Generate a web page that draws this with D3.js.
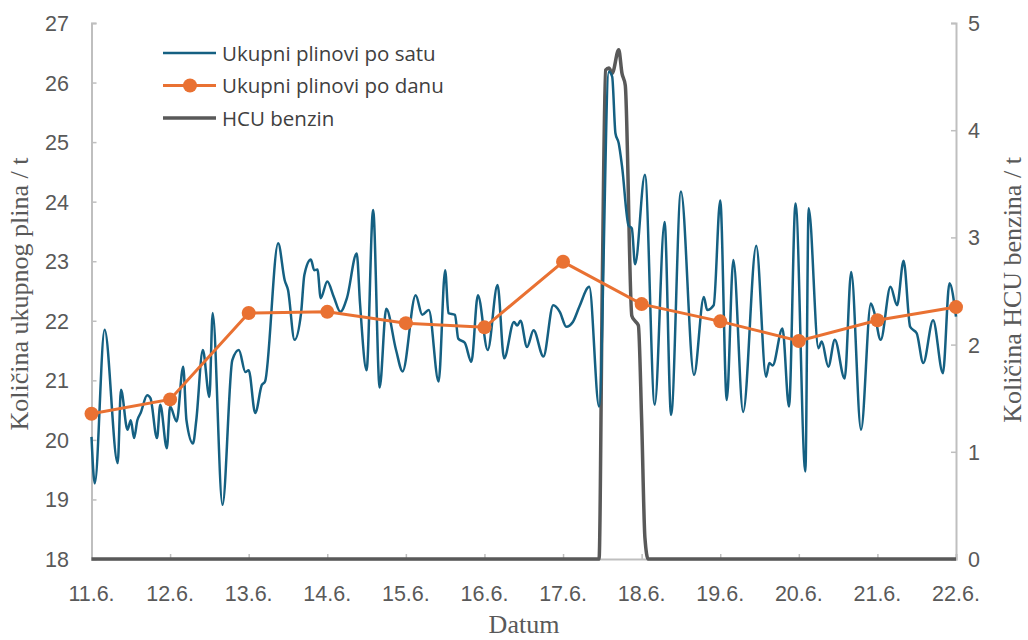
<!DOCTYPE html>
<html>
<head>
<meta charset="utf-8">
<script src="https://cdn.jsdelivr.net/npm/d3@7"></script>
<style>
  body { margin: 0; background: #fff; }
  svg text { fill: #595959; }
</style>
</head>
<body>
<script>
const width = 1028;
const height = 640;

// day labels (x ticks), one per 24 h
const dayLabels = ["11.6.", "12.6.", "13.6.", "14.6.", "15.6.", "16.6.", "17.6.", "18.6.", "19.6.", "20.6.", "21.6.", "22.6."];

// daily totals (t), one per day
const dailyValues = [20.44, 20.68, 22.13, 22.15, 21.96, 21.89, 22.99, 22.28, 21.99, 21.66, 22.01, 22.23];

// hourly totals: hour since 11.6. 00:00 and value (t)
const hourlyHours = [0, 1, 4, 8, 9, 11, 12, 13, 14, 15, 17, 18, 20, 21, 23, 24, 26, 28, 29, 31, 32, 34, 36, 37,
  40, 43, 45, 47, 48, 50, 52, 53, 57, 59, 60, 62, 64, 65, 67, 68, 69, 70, 72, 74, 76, 78, 81, 82, 84, 86, 88,
  90, 93, 95, 99, 101, 103, 106, 108, 109, 111, 112, 114, 116, 118, 121, 124, 126, 129, 130, 131, 133, 135, 138,
  141, 143, 145, 147, 149, 152, 155, 158, 159, 160, 161, 162, 164, 165, 166, 169, 172, 175, 177, 180, 184, 187,
  188, 190, 192, 194, 196, 199, 203, 206, 207, 208, 211, 213, 215, 218, 219, 222, 223, 225, 227, 230, 232, 235,
  238, 239, 241, 244, 246, 248, 250, 252, 254, 257, 260, 262, 264];
const hourlyValues = [20.05, 19.27, 21.85, 19.61, 20.84, 20.17, 20.33, 20.03, 20.33, 20.45, 20.75, 20.70, 20.03, 20.59, 19.86, 20.56, 20.31, 21.23, 20.33, 19.94, 20.33, 21.51, 20.72, 22.13,
  18.91, 21.34, 21.51, 21.14, 21.17, 20.45, 20.92, 20.98, 23.30, 22.68, 22.52, 21.68, 22.13, 22.77, 23.03, 22.85, 22.86, 22.38, 22.66, 22.40, 22.15, 22.38, 23.13, 22.29, 21.17, 23.86, 20.88,
  22.20, 21.51, 21.15, 22.43, 22.10, 22.18, 20.98, 22.85, 22.13, 22.10, 21.70, 21.63, 21.31, 22.43, 21.51, 22.60, 21.37, 21.98, 21.92, 22.00, 21.56, 21.84, 21.40,
  22.26, 22.15, 21.90, 21.98, 22.24, 22.57, 20.56, 26.18, 26.10, 25.15, 24.98, 24.60, 23.60, 23.55, 22.95, 24.45, 20.59, 23.66, 20.42, 24.17, 21.09, 22.40,
  22.18, 22.26, 24.02, 20.67, 23.02, 20.47, 23.26, 21.06, 21.29, 21.25, 21.87, 20.56, 23.97, 19.47, 23.89, 21.54, 21.65, 21.23, 21.68, 21.03, 22.82, 20.17,
  22.29, 22.15, 21.68, 22.57, 22.26, 23.01, 21.90, 21.79, 21.29, 22.01, 21.12, 22.63, 22.07];

// HCU benzin (t), right axis
const hcuHours = [0, 155, 156, 157, 158, 159, 161, 162, 163, 165, 166, 167, 168, 169, 170, 264];
const hcuValues = [0, 0, 2.6, 4.56, 4.58, 4.53, 4.75, 4.53, 4.42, 2.27, 2.22, 2.18, 1.3, 0.2, 0, 0];

const leftTicks = [18, 19, 20, 21, 22, 23, 24, 25, 26, 27];
const rightTicks = [0, 1, 2, 3, 4, 5];

const blue = "#156082";
const orange = "#e97132";
const grey = "#595959";
const axisGrey = "#bfbfbf";
const tickFont = "'Liberation Sans', Arial, sans-serif";

const plotL = 91.5, plotR = 956, plotT = 23, plotB = 559;

const svg = d3.select("body").append("svg")
  .attr("width", width)
  .attr("height", height);

const x = d3.scaleLinear().domain([0, 264]).range([plotL, plotR]);
const y = d3.scaleLinear().domain([18, 27]).range([plotB, plotT]);
const y2 = d3.scaleLinear().domain([0, 5]).range([plotB, plotT]);

// axes
const xAxis = svg.append("g")
  .attr("transform", `translate(0,${plotB})`)
  .call(d3.axisTop(x).tickValues(dayLabels.map((d, i) => i * 24)).tickSize(5).tickFormat(""));
xAxis.select(".domain").attr("stroke", axisGrey).attr("stroke-width", 2);
xAxis.selectAll(".tick line").attr("stroke", axisGrey).attr("stroke-width", 1.5);

svg.append("g").selectAll("text")
  .data(dayLabels)
  .enter().append("text")
  .attr("x", (d, i) => x(i * 24))
  .attr("y", 601)
  .attr("text-anchor", "middle")
  .style("font-family", tickFont)
  .style("font-size", "21.5px")
  .text(d => d);

const yAxis = svg.append("g")
  .attr("transform", `translate(${plotL},0)`)
  .call(d3.axisRight(y).tickValues(leftTicks).tickSize(5).tickFormat(""));
yAxis.select(".domain").attr("stroke", axisGrey).attr("stroke-width", 2);
yAxis.selectAll(".tick line").attr("stroke", axisGrey).attr("stroke-width", 1.5);

svg.append("g").selectAll("text")
  .data(leftTicks)
  .enter().append("text")
  .attr("x", 69)
  .attr("y", d => y(d) + 8)
  .attr("text-anchor", "end")
  .style("font-family", tickFont)
  .style("font-size", "21.5px")
  .text(d => d);

const y2Axis = svg.append("g")
  .attr("transform", `translate(${plotR},0)`)
  .call(d3.axisLeft(y2).tickValues(rightTicks).tickSize(5).tickFormat(""));
y2Axis.select(".domain").attr("stroke", axisGrey).attr("stroke-width", 2);
y2Axis.selectAll(".tick line").attr("stroke", axisGrey).attr("stroke-width", 1.5);

svg.append("g").selectAll("text")
  .data(rightTicks)
  .enter().append("text")
  .attr("x", 968)
  .attr("y", d => y2(d) + 8)
  .attr("text-anchor", "start")
  .style("font-family", tickFont)
  .style("font-size", "21.5px")
  .text(d => d);

// axis titles
svg.append("text")
  .attr("transform", `translate(28,294) rotate(-90)`)
  .attr("text-anchor", "middle")
  .style("font-family", "'Liberation Serif', serif")
  .style("font-size", "26px")
  .text("Količina ukupnog plina / t");

svg.append("text")
  .attr("transform", `translate(1021,290) rotate(-90)`)
  .attr("text-anchor", "middle")
  .style("font-family", "'Liberation Serif', serif")
  .style("font-size", "26px")
  .text("Količina HCU benzina / t");

svg.append("text")
  .attr("x", 524)
  .attr("y", 633)
  .attr("text-anchor", "middle")
  .style("font-family", "'Liberation Serif', serif")
  .style("font-size", "26px")
  .text("Datum");

// series
const hourly = hourlyHours.map((h, i) => ({ h: h, v: hourlyValues[i] }));
const hcu = hcuHours.map((h, i) => ({ h: h, v: hcuValues[i] }));
const daily = dailyValues.map((v, i) => ({ h: i * 24, v: v }));

svg.append("path")
  .datum(hcu)
  .attr("fill", "none")
  .attr("stroke", grey)
  .attr("stroke-width", 3.5)
  .attr("d", d3.line().x(d => x(d.h)).y(d => y2(d.v)).curve(d3.curveMonotoneX));

svg.append("path")
  .datum(hourly)
  .attr("fill", "none")
  .attr("stroke", blue)
  .attr("stroke-width", 2.5)
  .attr("d", d3.line().x(d => x(d.h)).y(d => y(d.v)).curve(d3.curveMonotoneX));

svg.append("path")
  .datum(daily)
  .attr("fill", "none")
  .attr("stroke", orange)
  .attr("stroke-width", 3)
  .attr("d", d3.line().x(d => x(d.h)).y(d => y(d.v)));

svg.selectAll("circle.day")
  .data(daily)
  .enter().append("circle")
  .attr("class", "day")
  .attr("cx", d => x(d.h))
  .attr("cy", d => y(d.v))
  .attr("r", 7)
  .attr("fill", orange);

// legend
const legendItems = [
  { name: "Ukupni plinovi po satu", color: blue, w: 2.5, dot: false },
  { name: "Ukupni plinovi po danu", color: orange, w: 3, dot: true },
  { name: "HCU benzin", color: grey, w: 3.5, dot: false }
];
const legend = svg.append("g").attr("transform", "translate(163,53)");
legendItems.forEach((d, i) => {
  const g = legend.append("g").attr("transform", `translate(0,${i * 32.5})`);
  g.append("line").attr("x1", 0).attr("x2", 53).attr("y1", 0).attr("y2", 0)
    .attr("stroke", d.color).attr("stroke-width", d.w);
  if (d.dot) g.append("circle").attr("cx", 27).attr("cy", 0).attr("r", 7).attr("fill", d.color);
  g.append("text").attr("x", 59).attr("y", 7.5)
    .style("font-family", "'Open Sans', sans-serif")
    .style("font-size", "20.5px")
    .style("fill", "#404040")
    .text(d.name);
});
</script>
</body>
</html>
